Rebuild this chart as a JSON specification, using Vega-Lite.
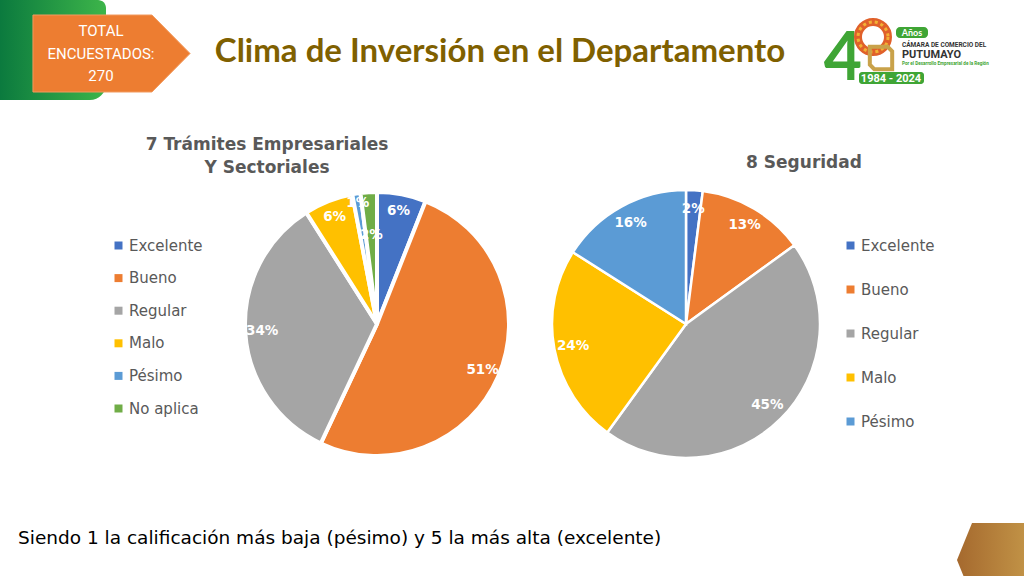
{
  "$schema": "https://vega.github.io/schema/vega-lite/v6.json",
  "width": 1024,
  "height": 576,
  "autosize": {"type": "fit", "contains": "padding"},
  "padding": 0,
  "background": "#ffffff",
  "config": {"view": {"stroke": null}, "legend": {"padding": 0}},
  "datasets": {
    "tramites": [
      {"cat": "Excelente", "pct": 0.06, "ord": 1},
      {"cat": "Bueno", "pct": 0.51, "ord": 2},
      {"cat": "Regular", "pct": 0.34, "ord": 3},
      {"cat": "Malo", "pct": 0.06, "ord": 4},
      {"cat": "Pésimo", "pct": 0.01, "ord": 5},
      {"cat": "No aplica", "pct": 0.02, "ord": 6}
    ],
    "seguridad": [
      {"cat": "Excelente", "pct": 0.02, "ord": 1},
      {"cat": "Bueno", "pct": 0.13, "ord": 2},
      {"cat": "Regular", "pct": 0.45, "ord": 3},
      {"cat": "Malo", "pct": 0.24, "ord": 4},
      {"cat": "Pésimo", "pct": 0.16, "ord": 5}
    ]
  },
  "resolve": {"scale": {"color": "independent"}},
  "layer": [
    {
      "data": {"values": [{}]},
      "mark": {"type": "rect", "x": 0, "x2": 106, "y": 0, "y2": 100, "cornerRadiusBottomRight": 16, "cornerRadiusTopRight": 8,
        "color": {"gradient": "linear", "x1": 0, "x2": 1, "y1": 0, "y2": 0, "stops": [{"offset": 0, "color": "#0B7A3E"}, {"offset": 1, "color": "#3DB54A"}]}},
      "encoding": {}
    },
    {
      "data": {"values": [{}]},
      "mark": {"type": "point", "shape": "M -2.04 -1 L 1.05 -1 L 2.04 0 L 1.05 1 L -2.04 1 Z", "x": 111.5, "y": 53.5, "size": 5929, "filled": true, "fill": "#ED7D31", "stroke": "#F29A5E", "strokeWidth": 1, "opacity": 1},
      "encoding": {}
    },
    {
      "data": {"values": [{"t": "TOTAL\nENCUESTADOS:\n270"}]},
      "mark": {"type": "text", "x": 101, "y": 31, "align": "center", "baseline": "middle", "lineBreak": "\n", "lineHeight": 22.5, "font": "Roboto", "fontSize": 15, "fill": "#ffffff"},
      "encoding": {"text": {"field": "t"}}
    },
    {
      "data": {"values": [{"t": "Clima de Inversión en el Departamento"}]},
      "mark": {"type": "text", "x": 500, "y": 52, "align": "center", "baseline": "middle", "font": "Lato", "fontSize": 33, "fontWeight": "bold", "fill": "#7F6000"},
      "encoding": {"text": {"field": "t"}}
    },
    {
      "data": {"values": [{"t": "4"}]},
      "mark": {"type": "text", "x": 843, "y": 80, "align": "center", "baseline": "alphabetic", "font": "Lato", "fontSize": 66, "fontWeight": "bold", "fill": "#3FA535"},
      "encoding": {"text": {"field": "t"}}
    },
    {
      "data": {"values": [{}]},
      "mark": {"type": "point", "shape": "circle", "x": 873, "y": 37, "size": 900, "filled": false, "fill": "#ffffff", "stroke": "#E0602A", "strokeWidth": 8, "opacity": 1},
      "encoding": {}
    },
    {
      "data": {"values": [{}]},
      "mark": {"type": "point", "shape": "circle", "x": 873, "y": 37, "size": 900, "filled": false, "stroke": "#F2B134", "strokeWidth": 3, "strokeDash": [3, 3], "opacity": 1},
      "encoding": {}
    },
    {
      "data": {"values": [{}]},
      "mark": {"type": "point", "shape": "M -1 -1 L 0.6 -1 L 1 -0.6 L 1 1 L -0.6 1 L -1 0.6 Z", "x": 881, "y": 58, "size": 500, "filled": false, "stroke": "#C9A24A", "strokeWidth": 4, "opacity": 1},
      "encoding": {}
    },
    {
      "data": {"values": [{}]},
      "mark": {"type": "rect", "x": 896, "x2": 928, "y": 27, "y2": 38, "cornerRadius": 4, "color": "#3FA535"},
      "encoding": {}
    },
    {
      "data": {"values": [{"t": "Años"}]},
      "mark": {"type": "text", "x": 912, "y": 32.5, "align": "center", "baseline": "middle", "font": "Lato", "fontSize": 9, "fontWeight": "bold", "fill": "#ffffff"},
      "encoding": {"text": {"field": "t"}}
    },
    {
      "data": {"values": [{"t": "CÁMARA DE COMERCIO DEL"}]},
      "mark": {"type": "text", "x": 902, "y": 44.5, "align": "left", "baseline": "middle", "font": "Roboto", "fontSize": 6.5, "fontWeight": "bold", "fill": "#333333"},
      "encoding": {"text": {"field": "t"}}
    },
    {
      "data": {"values": [{"t": "PUTUMAYO"}]},
      "mark": {"type": "text", "x": 902, "y": 54.5, "align": "left", "baseline": "middle", "font": "Roboto", "fontSize": 11, "fontWeight": "bold", "fill": "#333333", "letterSpacing": 2},
      "encoding": {"text": {"field": "t"}}
    },
    {
      "data": {"values": [{"t": "Por el Desarrollo Empresarial de la Región"}]},
      "mark": {"type": "text", "x": 902, "y": 64, "align": "left", "baseline": "middle", "font": "Roboto", "fontSize": 4.6, "fontWeight": "bold", "fill": "#3FA535"},
      "encoding": {"text": {"field": "t"}}
    },
    {
      "data": {"values": [{}]},
      "mark": {"type": "rect", "x": 859, "x2": 924, "y": 72, "y2": 84, "cornerRadius": 3, "color": "#3FA535"},
      "encoding": {}
    },
    {
      "data": {"values": [{"t": "1984 - 2024"}]},
      "mark": {"type": "text", "x": 891, "y": 78.5, "align": "center", "baseline": "middle", "font": "Roboto", "fontSize": 11, "fontWeight": "bold", "fill": "#ffffff"},
      "encoding": {"text": {"field": "t"}}
    },
    {
      "data": {"values": [{}]},
      "mark": {"type": "point", "shape": "M -0.7 -0.925 L 1 -0.925 L 1 0.925 L -0.7 0.925 L -1.075 0 Z", "x": 1000, "y": 560, "size": 6400, "filled": true, "clip": true, "opacity": 1,
        "fill": {"gradient": "linear", "x1": 0, "x2": 1, "y1": 0, "y2": 0, "stops": [{"offset": 0, "color": "#A5692E"}, {"offset": 1, "color": "#C79B4B"}]}},
      "encoding": {}
    },
    {
      "data": {"values": [{"t": "Siendo 1 la calificación más baja (pésimo) y 5 la más alta (excelente)"}]},
      "mark": {"type": "text", "x": 18, "y": 538, "align": "left", "baseline": "middle", "font": "DejaVu Sans", "fontSize": 18.5, "fill": "#000000"},
      "encoding": {"text": {"field": "t"}}
    },
    {
      "data": {"name": "tramites"},
      "encoding": {
        "theta": {"field": "pct", "type": "quantitative", "stack": true},
        "order": {"field": "ord", "type": "quantitative"},
        "x": {"datum": "Trámites", "type": "nominal", "scale": {"type": "point", "domain": ["Trámites", "Seguridad"], "range": [377, 686], "padding": 0}, "axis": null},
        "y": {"datum": "pie", "type": "nominal", "scale": {"type": "point", "domain": ["title", "pie"], "range": [156, 324], "padding": 0}, "axis": null}
      },
      "layer": [
        {
          "mark": {"type": "arc", "radius": 132, "stroke": "#ffffff", "strokeWidth": 4},
          "encoding": {
            "color": {"field": "cat", "type": "nominal",
              "scale": {"domain": ["Excelente", "Bueno", "Regular", "Malo", "Pésimo", "No aplica"], "range": ["#4472C4", "#ED7D31", "#A5A5A5", "#FFC000", "#5B9BD5", "#70AD47"]},
              "legend": {"orient": "none", "legendX": 111, "legendY": 238, "title": null, "symbolType": "square", "symbolSize": 64, "symbolStrokeWidth": 0, "labelFont": "DejaVu Sans", "labelFontSize": 15, "labelColor": "#595959", "rowPadding": 16.6, "labelOffset": 3}}
          }
        },
        {
          "mark": {"type": "text", "radius": 115, "font": "DejaVu Sans", "fontSize": 13.5, "fontWeight": "bold", "fill": "#ffffff", "align": "center", "baseline": "middle"},
          "encoding": {
            "detail": {"field": "cat"},
            "text": {"field": "pct", "type": "quantitative", "format": ".0%"},
            "opacity": {"condition": {"test": "datum.cat === 'No aplica' || datum.cat === 'Pésimo'", "value": 0}, "value": 1}
          }
        },
        {
          "mark": {"type": "text", "radius": 123, "font": "DejaVu Sans", "fontSize": 13.5, "fontWeight": "bold", "fill": "#ffffff", "align": "center", "baseline": "middle"},
          "encoding": {
            "detail": {"field": "cat"},
            "text": {"field": "pct", "type": "quantitative", "format": ".0%"},
            "opacity": {"condition": {"test": "datum.cat === 'Pésimo'", "value": 1}, "value": 0}
          }
        },
        {
          "mark": {"type": "text", "radius": 89, "font": "DejaVu Sans", "fontSize": 13.5, "fontWeight": "bold", "fill": "#ffffff", "align": "center", "baseline": "middle"},
          "encoding": {
            "detail": {"field": "cat"},
            "text": {"field": "pct", "type": "quantitative", "format": ".0%"},
            "opacity": {"condition": {"test": "datum.cat === 'No aplica'", "value": 1}, "value": 0}
          }
        }
      ]
    },
    {
      "data": {"name": "seguridad"},
      "encoding": {
        "theta": {"field": "pct", "type": "quantitative", "stack": true},
        "order": {"field": "ord", "type": "quantitative"},
        "x": {"datum": "Seguridad", "type": "nominal", "axis": null},
        "y": {"datum": "pie", "type": "nominal", "axis": null}
      },
      "layer": [
        {
          "mark": {"type": "arc", "radius": 134, "stroke": "#ffffff", "strokeWidth": 2.5},
          "encoding": {
            "color": {"field": "cat", "type": "nominal",
              "scale": {"domain": ["Excelente", "Bueno", "Regular", "Malo", "Pésimo"], "range": ["#4472C4", "#ED7D31", "#A5A5A5", "#FFC000", "#5B9BD5"]},
              "legend": {"orient": "none", "legendX": 843, "legendY": 238, "title": null, "symbolType": "square", "symbolSize": 64, "symbolStrokeWidth": 0, "labelFont": "DejaVu Sans", "labelFontSize": 15, "labelColor": "#595959", "rowPadding": 28, "labelOffset": 3}}
          }
        },
        {
          "mark": {"type": "text", "radius": 115, "font": "DejaVu Sans", "fontSize": 13.5, "fontWeight": "bold", "fill": "#ffffff", "align": "center", "baseline": "middle"},
          "encoding": {
            "detail": {"field": "cat"},
            "text": {"field": "pct", "type": "quantitative", "format": ".0%"}
          }
        }
      ]
    },
    {
      "data": {"values": [{"t": "7 Trámites Empresariales\nY Sectoriales"}]},
      "mark": {"type": "text", "dx": -110, "dy": -11, "align": "center", "baseline": "middle", "lineBreak": "\n", "lineHeight": 23, "font": "DejaVu Sans", "fontSize": 17, "fontWeight": "bold", "fill": "#595959"},
      "encoding": {
        "x": {"datum": "Trámites", "type": "nominal", "axis": null},
        "y": {"datum": "title", "type": "nominal", "axis": null},
        "text": {"field": "t"}
      }
    },
    {
      "data": {"values": [{"t": "8 Seguridad"}]},
      "mark": {"type": "text", "dx": 118, "dy": 7, "align": "center", "baseline": "middle", "font": "DejaVu Sans", "fontSize": 17, "fontWeight": "bold", "fill": "#595959"},
      "encoding": {
        "x": {"datum": "Seguridad", "type": "nominal", "axis": null},
        "y": {"datum": "title", "type": "nominal", "axis": null},
        "text": {"field": "t"}
      }
    }
  ]
}
